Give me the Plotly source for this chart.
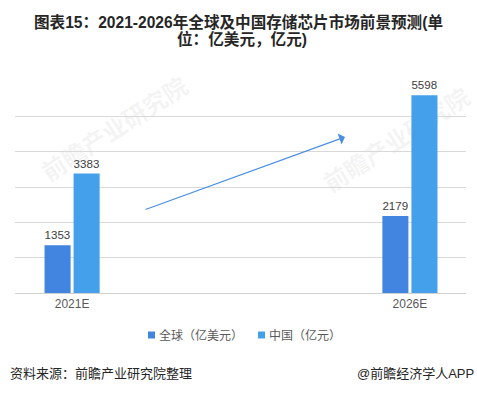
import plotly.graph_objects as go

categories = ["2021E", "2026E"]
global_vals = [1353, 2179]
china_vals = [3383, 5598]
series_names = ["全球（亿美元）", "中国（亿元）"]
title_lines = ["图表15：2021-2026年全球及中国存储芯片市场前景预测(单", "位：亿美元，亿元)"]
source_text = "资料来源：前瞻产业研究院整理"
brand_text = "@前瞻经济学人APP"
watermark_text = "前瞻产业研究院"

FONT = "Liberation Sans, Noto Sans CJK SC, sans-serif"
C_GLOBAL = "#4285E0"
C_CHINA = "#45A0EC"

fig = go.Figure()
for name, vals, col in [(series_names[0], global_vals, C_GLOBAL), (series_names[1], china_vals, C_CHINA)]:
    fig.add_trace(go.Bar(
        x=categories, y=vals, name=name,
        marker=dict(color=col, line=dict(width=0)),
        text=[str(v) for v in vals], textposition="outside",
        textfont=dict(size=12, color="#404040", family=FONT), cliponaxis=False,
        hoverinfo="skip",
    ))

W, H = 477, 394
L, R, T, B = 15, 11, 81, 101
pw, ph = W - L - R, H - T - B

def px(x):
    return (x - L) / pw

def py(y):
    return (H - B - y) / ph

shapes = []
# faint watermarks
for cx, cy in [(116, 131), (398, 142)]:
    shapes.append(dict(
        type="rect", xref="paper", yref="paper",
        x0=px(cx) - 0.01, x1=px(cx) + 0.01, y0=py(cy) - 0.01, y1=py(cy) + 0.01,
        line=dict(width=0), fillcolor="rgba(0,0,0,0)", layer="below",
        label=dict(text=watermark_text, textangle=-33,
                   font=dict(size=24, color="rgba(160,160,160,0.12)", family="Noto Sans CJK SC", weight="bold"),
                   textposition="middle center"),
    ))

# legend squares and labels
legend_items = [(148, series_names[0], C_GLOBAL), (258, series_names[1], C_CHINA)]
annotations = []
for lx, name, col in legend_items:
    shapes.append(dict(type="rect", xref="paper", yref="paper",
                       x0=px(lx), x1=px(lx + 7), y0=py(338.5), y1=py(331.5),
                       line=dict(width=0), fillcolor=col, layer="above"))
    annotations.append(dict(xref="paper", yref="paper", x=px(lx + 9), y=py(335),
                            xanchor="left", yanchor="middle", text=name, showarrow=False,
                            font=dict(size=12, color="#595959", family=FONT)))

annotations += [
    dict(xref="paper", yref="paper", x=px(238), y=py(22), xanchor="center", yanchor="middle",
         text="<b>%s</b>" % title_lines[0], showarrow=False,
         font=dict(size=15.6, color="#262626", family=FONT)),
    dict(xref="paper", yref="paper", x=px(242), y=py(39), xanchor="center", yanchor="middle",
         text="<b>%s</b>" % title_lines[1], showarrow=False,
         font=dict(size=15.6, color="#262626", family=FONT)),
    dict(xref="paper", yref="paper", x=px(345), y=py(137), ax=144 - 345, ay=210 - 137,
         showarrow=True, arrowhead=1, arrowsize=1.6, arrowwidth=1.2, arrowcolor="#4A8EE6", text=""),
    dict(xref="paper", yref="paper", x=px(8), y=py(373), xanchor="left", yanchor="middle",
         text=source_text, showarrow=False, font=dict(size=13, color="#262626", family=FONT)),
    dict(xref="paper", yref="paper", x=px(476), y=py(373), xanchor="right", yanchor="middle",
         text=brand_text, showarrow=False, font=dict(size=13, color="#262626", family=FONT)),
]

fig.update_layout(
    width=W, height=H,
    margin=dict(l=L, r=R, t=T, b=B, pad=0, autoexpand=False),
    paper_bgcolor="white", plot_bgcolor="white",
    barmode="group", bargap=0.828, bargroupgap=0.103,
    showlegend=False, hovermode=False,
    xaxis=dict(type="category", range=[-0.169, 1.166], showgrid=False,
               showline=True, linecolor="#D0D0D0", linewidth=1, ticks="",
               tickfont=dict(size=12, color="#595959", family=FONT), fixedrange=True),
    yaxis=dict(range=[0, 6000], dtick=1000, showticklabels=False, showgrid=True,
               gridcolor="#D9D9D9", gridwidth=1, zeroline=False, showline=False, fixedrange=True),
    shapes=shapes,
    annotations=annotations,
)

fig.write_html("out.html", config={"displayModeBar": False},
               post_script="document.body.style.margin='0px';")
